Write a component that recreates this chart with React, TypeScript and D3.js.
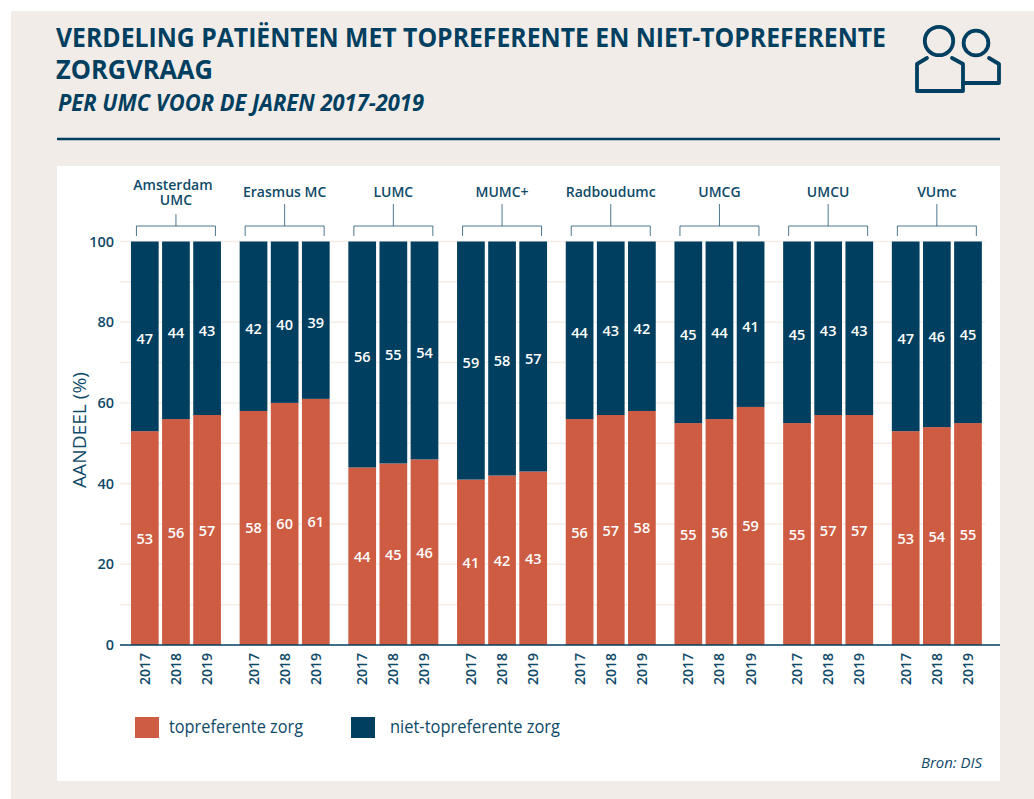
import React, { useEffect, useRef } from 'react'
import * as d3 from 'd3'

const centers = ['Amsterdam UMC', 'Erasmus MC', 'LUMC', 'MUMC+', 'Radboudumc', 'UMCG', 'UMCU', 'VUmc']
const years = ['2017', '2018', '2019']
const yTicks = [0, 20, 40, 60, 80, 100]
const gridTicks = [10, 20, 30, 40, 50, 60, 70, 80, 90, 100]

// shares per centre, one row per UMC, in the order of the years
const topreferent = [
  [53, 56, 57],
  [58, 60, 61],
  [44, 45, 46],
  [41, 42, 43],
  [56, 57, 58],
  [55, 56, 59],
  [55, 57, 57],
  [53, 54, 55],
]
const nietTopreferent = [
  [47, 44, 43],
  [42, 40, 39],
  [56, 55, 54],
  [59, 58, 57],
  [44, 43, 42],
  [45, 44, 41],
  [45, 43, 43],
  [47, 46, 45],
]

const NAVY = '#003f5f'
const TEXT = '#0f4a69'
const RED = '#cd5c43'
const BG = '#f1ece8'
const GRID = '#f5eee8'
const FONT = '"Open Sans", "Liberation Sans", sans-serif'

const App = () => {
  const ref = useRef<SVGSVGElement>(null)

  useEffect(() => {
    const svg = d3.select(ref.current)
    svg.selectAll('*').remove()
    svg.style('font-family', FONT)

    // page background and white panel
    svg.append('rect').attr('x', 11).attr('y', 11).attr('width', 1023).attr('height', 788).attr('fill', BG)
    svg.append('rect').attr('x', 57).attr('y', 166).attr('width', 943).attr('height', 615).attr('fill', '#fff')

    // header
    const title = svg.append('g').attr('fill', NAVY).attr('font-weight', 700).attr('font-size', 27)
    title.append('text').attr('x', 56).attr('y', 47).attr('textLength', 830).attr('lengthAdjust', 'spacingAndGlyphs')
      .text('VERDELING PATIËNTEN MET TOPREFERENTE EN NIET-TOPREFERENTE')
    title.append('text').attr('x', 56).attr('y', 79).attr('textLength', 157).attr('lengthAdjust', 'spacingAndGlyphs')
      .text('ZORGVRAAG')
    svg.append('text').attr('x', 58).attr('y', 111).attr('fill', NAVY)
      .attr('font-size', 23).attr('font-weight', 700).attr('font-style', 'italic')
      .attr('textLength', 366).attr('lengthAdjust', 'spacingAndGlyphs')
      .text('PER UMC VOOR DE JAREN 2017-2019')
    svg.append('line').attr('x1', 57).attr('x2', 1000).attr('y1', 139).attr('y2', 139)
      .attr('stroke', NAVY).attr('stroke-width', 2.5)

    // people icon
    const icon = svg.append('g').attr('fill', 'none').attr('stroke', NAVY).attr('stroke-width', 3.8)
      .attr('stroke-linejoin', 'round').attr('stroke-linecap', 'round')
    icon.append('circle').attr('cx', 939).attr('cy', 41).attr('r', 14.2)
    icon.append('circle').attr('cx', 976).attr('cy', 43).attr('r', 12.4)
    icon.append('path').attr('d', 'M927,58 L917,64 V91 H963 V64 L952,58')
    icon.append('path').attr('d', 'M989,58 L999,64 V83 H963')

    // scales
    const x0 = d3.scaleBand<string>().domain(centers).range([121.6, 991.2]).paddingInner(0.172).paddingOuter(0.086)
    const x1 = d3.scaleBand<string>().domain(years).range([0, x0.bandwidth()]).paddingInner(0.11)
    const y = d3.scaleLinear().domain([0, 100]).range([645, 241.5])

    // grid and y axis
    svg.append('g').selectAll('line').data(gridTicks).join('line')
      .attr('x1', 120).attr('x2', 985)
      .attr('y1', (d) => y(d)).attr('y2', (d) => y(d))
      .attr('stroke', GRID).attr('stroke-width', 1.5)

    const yAxis = svg.append('g').attr('transform', 'translate(118,0)')
      .call(d3.axisLeft(y).tickValues(yTicks).tickSize(0).tickPadding(4))
    yAxis.select('.domain').remove()
    yAxis.selectAll('text').attr('fill', TEXT).attr('font-family', FONT).attr('font-size', 14.5).attr('font-weight', 600)

    svg.append('text').attr('transform', 'translate(86,488) rotate(-90)')
      .attr('fill', TEXT).attr('font-size', 18.5).attr('font-weight', 500)
      .attr('textLength', 116).attr('lengthAdjust', 'spacingAndGlyphs')
      .text('AANDEEL (%)')

    // stacked bars
    centers.forEach((c, i) => {
      const g = svg.append('g').attr('transform', `translate(${x0(c)},0)`)
      const rows = years.map((yr, j) => ({ yr, top: topreferent[i][j], niet: nietTopreferent[i][j] }))
      const series = d3.stack<any>().keys(['top', 'niet'])(rows)

      series.forEach((s) => {
        const isTop = s.key === 'top'
        g.append('g').selectAll('rect').data(s).join('rect')
          .attr('x', (d: any) => x1(d.data.yr)!)
          .attr('width', x1.bandwidth())
          // the navy part always fills up to 100
          .attr('y', (d: any) => (isTop ? y(d[1]) : y(100)))
          .attr('height', (d: any) => (isTop ? y(d[0]) - y(d[1]) : y(d[0]) - y(100)))
          .attr('fill', isTop ? RED : NAVY)
        g.append('g').selectAll('text').data(s).join('text')
          .attr('x', (d: any) => x1(d.data.yr)! + x1.bandwidth() / 2)
          .attr('y', (d: any) => y((d[0] + d[1]) / 2) + (isTop ? 5.5 : 7.5))
          .attr('text-anchor', 'middle').attr('fill', '#fff')
          .attr('font-size', 14.5).attr('font-weight', 600)
          .text((d: any) => d.data[s.key])
      })

      // year labels
      g.append('g').selectAll('text').data(years).join('text')
        .attr('transform', (d) => `translate(${x1(d)! + x1.bandwidth() / 2 + 5},653) rotate(-90)`)
        .attr('text-anchor', 'end').attr('fill', TEXT).attr('font-size', 14).attr('font-weight', 600)
        .text((d) => d)

      // bracket with centre name
      const w = x0.bandwidth()
      const mid = w / 2
      const twoLines = c === 'Amsterdam UMC'
      g.append('path')
        .attr('d', `M5.5,236 V226 H${w - 5.5} V236 M${mid},226 V${twoLines ? 214 : 204}`)
        .attr('fill', 'none').attr('stroke', NAVY).attr('stroke-width', 1).attr('opacity', 0.7)
      const label = g.append('text').attr('text-anchor', 'middle').attr('fill', TEXT)
        .attr('font-size', 14).attr('font-weight', 600)
      if (twoLines) {
        label.append('tspan').attr('x', mid - 3).attr('y', 190).text('Amsterdam')
        label.append('tspan').attr('x', mid).attr('y', 205).text('UMC')
      } else {
        label.attr('x', mid).attr('y', 197).text(c)
      }
    })

    // base line
    svg.append('line').attr('x1', 120).attr('x2', 1000).attr('y1', y(0)).attr('y2', y(0))
      .attr('stroke', NAVY).attr('stroke-width', 1.5)

    // legend
    const legend = [
      { label: 'topreferente zorg', color: RED, x: 135, tx: 169, len: 134 },
      { label: 'niet-topreferente zorg', color: NAVY, x: 351, tx: 390, len: 170 },
    ]
    legend.forEach((l) => {
      svg.append('rect').attr('x', l.x).attr('y', 717).attr('width', 24).attr('height', 21).attr('fill', l.color)
      svg.append('text').attr('x', l.tx).attr('y', 733).attr('fill', TEXT).attr('font-size', 18).attr('font-weight', 500)
        .attr('textLength', l.len).attr('lengthAdjust', 'spacingAndGlyphs').text(l.label)
    })

    svg.append('text').attr('x', 921).attr('y', 767.5).attr('fill', TEXT)
      .attr('font-size', 14.5).attr('font-style', 'italic').attr('font-weight', 500)
      .attr('textLength', 61).attr('lengthAdjust', 'spacingAndGlyphs').text('Bron: DIS')
  }, [])

  return <svg ref={ref} width={1034} height={799} style={{ position: 'absolute', left: 0, top: 0 }} />
}

export default App
